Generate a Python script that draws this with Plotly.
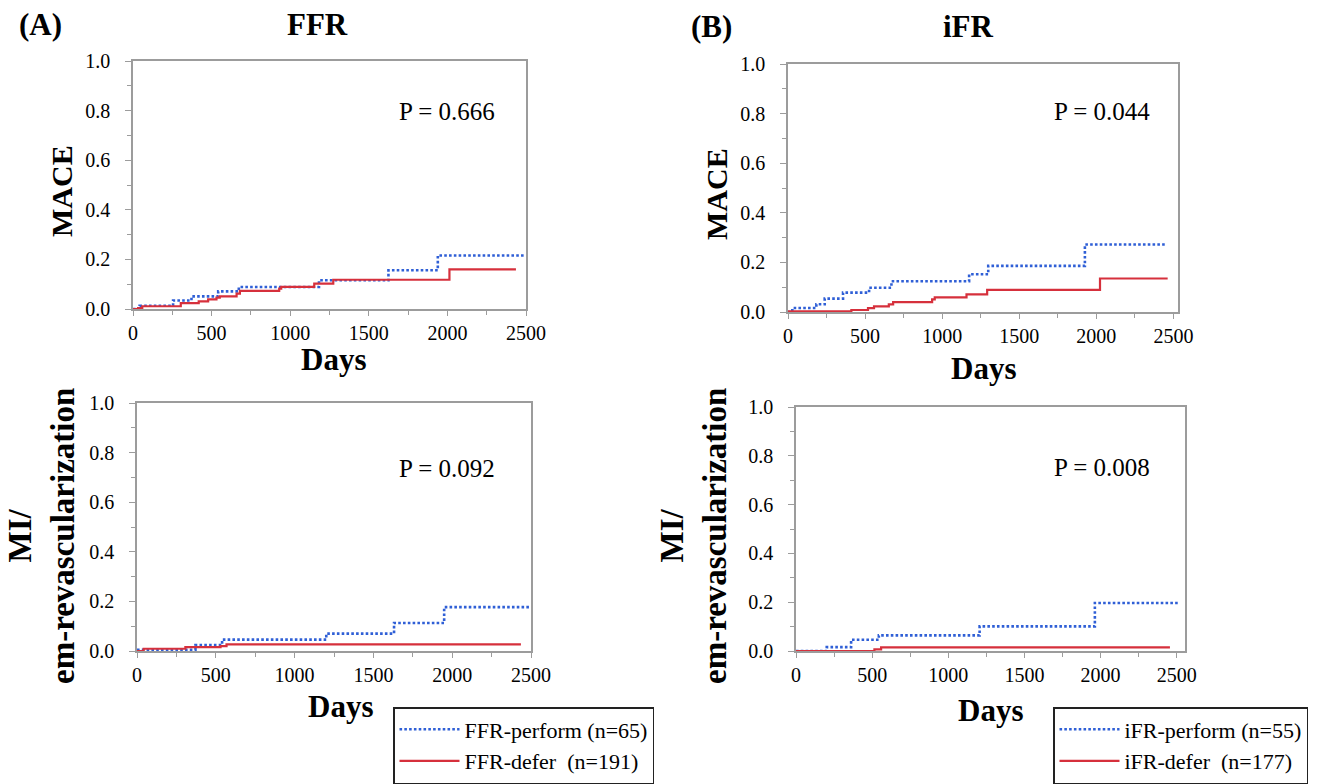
import plotly.graph_objects as go

W, H = 1324, 784

# ---------------- data ----------------
day_ticks = [0, 500, 1000, 1500, 2000, 2500]
prob_ticks = [0.0, 0.2, 0.4, 0.6, 0.8, 1.0]

# (A) FFR - MACE
ffr_mace_perform_days = [0, 42, 255, 372, 542, 673, 1183, 1625, 1939, 2485]
ffr_mace_perform_val = [0.0, 0.013, 0.034, 0.051, 0.071, 0.089, 0.116, 0.156, 0.216, 0.216]
ffr_mace_defer_days = [0, 32, 59, 304, 418, 478, 531, 552, 659, 680, 930, 943, 1153, 1274, 2013, 2436]
ffr_mace_defer_val = [0.0, 0.004, 0.011, 0.024, 0.031, 0.039, 0.046, 0.051, 0.062, 0.073,
                      0.082, 0.089, 0.102, 0.118, 0.160, 0.160]

# (B) iFR - MACE
ifr_mace_perform_days = [0, 28, 184, 238, 357, 526, 671, 1175, 1299, 1926, 2457]
ifr_mace_perform_val = [0.0, 0.016, 0.031, 0.054, 0.078, 0.098, 0.124, 0.152, 0.186, 0.272, 0.272]
ifr_mace_defer_days = [0, 411, 519, 558, 654, 682, 935, 952, 1158, 1292, 2024, 2463]
ifr_mace_defer_val = [0.003, 0.008, 0.016, 0.023, 0.031, 0.040, 0.051, 0.059, 0.071, 0.089, 0.135, 0.135]

# (A) FFR - MI / em-revascularization
ffr_mi_perform_days = [0, 371, 540, 1201, 1631, 1949, 2500]
ffr_mi_perform_val = [0.005, 0.024, 0.046, 0.070, 0.113, 0.177, 0.177]
ffr_mi_defer_days = [0, 42, 307, 530, 568, 2436]
ffr_mi_defer_val = [0.0, 0.009, 0.016, 0.020, 0.027, 0.027]

# (B) iFR - MI / em-revascularization
ifr_mi_perform_days = [0, 202, 362, 544, 1206, 1963, 2511]
ifr_mi_perform_val = [0.0, 0.016, 0.046, 0.064, 0.101, 0.197, 0.197]
ifr_mi_defer_days = [0, 515, 559, 2456]
ifr_mi_defer_val = [0.0, 0.007, 0.015, 0.015]

p_values = ["P = 0.666", "P = 0.044", "P = 0.092", "P = 0.008"]
legend_names_ffr = ["FFR-perform (n=65)", "FFR-defer&nbsp; (n=191)"]
legend_names_ifr = ["iFR-perform (n=55)", "iFR-defer&nbsp; (n=177)"]

# ---------------- styling ----------------
FONT = "Liberation Serif, serif"
GRAY = "#9c9c9c"
BLUE = "#2f5fd6"
RED = "#d6303c"


def fx(px):
    return px / W


def fy(py):
    return 1 - py / H


panels = [
    dict(ax="", xdom=(133, 526), ydom=(61, 309), xmax=2500,
         perform=(ffr_mace_perform_days, ffr_mace_perform_val),
         defer=(ffr_mace_defer_days, ffr_mace_defer_val),
         names=legend_names_ffr, legend="legend", show=True),
    dict(ax="2", xdom=(788, 1178), ydom=(64, 312), xmax=2530,
         perform=(ifr_mace_perform_days, ifr_mace_perform_val),
         defer=(ifr_mace_defer_days, ifr_mace_defer_val),
         names=legend_names_ifr, legend="legend2", show=True),
    dict(ax="3", xdom=(137, 531), ydom=(403, 651), xmax=2500,
         perform=(ffr_mi_perform_days, ffr_mi_perform_val),
         defer=(ffr_mi_defer_days, ffr_mi_defer_val),
         names=legend_names_ffr, legend="legend", show=False),
    dict(ax="4", xdom=(796, 1185), ydom=(407, 651), xmax=2555,
         perform=(ifr_mi_perform_days, ifr_mi_perform_val),
         defer=(ifr_mi_defer_days, ifr_mi_defer_val),
         names=legend_names_ifr, legend="legend2", show=False),
]

fig = go.Figure()
layout_axes = {}
for p in panels:
    a = p["ax"]
    fig.add_trace(go.Scatter(
        x=p["perform"][0], y=p["perform"][1], mode="lines", line_shape="hv",
        line=dict(color=BLUE, width=2.6, dash="2.6px,2.2px"),
        name=p["names"][0], legend=p["legend"], showlegend=p["show"],
        xaxis="x" + a, yaxis="y" + a))
    fig.add_trace(go.Scatter(
        x=p["defer"][0], y=p["defer"][1], mode="lines", line_shape="hv",
        line=dict(color=RED, width=2.2),
        name=p["names"][1], legend=p["legend"], showlegend=p["show"],
        xaxis="x" + a, yaxis="y" + a))

    layout_axes["xaxis" + a] = dict(
        domain=[fx(p["xdom"][0]), fx(p["xdom"][1])], anchor="y" + a,
        range=[0, p["xmax"]], tickmode="array", tickvals=day_ticks,
        showline=True, mirror=True, linecolor=GRAY, linewidth=1.5,
        ticks="outside", ticklen=5, tickcolor=GRAY, tickwidth=1,
        minor=dict(tickmode="linear", tick0=0, dtick=250, ticks="outside",
                   ticklen=4, tickcolor=GRAY),
        showgrid=False, zeroline=False, ticklabelstandoff=0, automargin=False,
        tickfont=dict(family=FONT, size=20, color="black"), fixedrange=True)
    layout_axes["yaxis" + a] = dict(
        domain=[fy(p["ydom"][1]), fy(p["ydom"][0])], anchor="x" + a,
        range=[0, 1], tickmode="array", tickvals=prob_ticks, tickformat=".1f",
        showline=True, mirror=True, linecolor=GRAY, linewidth=1.5,
        ticks="outside", ticklen=6, tickcolor=GRAY, tickwidth=1,
        minor=dict(tickmode="linear", tick0=0, dtick=0.1, ticks="outside",
                   ticklen=4, tickcolor=GRAY),
        showgrid=False, zeroline=False, ticklabelstandoff=11, automargin=False,
        tickfont=dict(family=FONT, size=20, color="black"), fixedrange=True)

annotations = []


def add_text(text, px, py, size, bold=False, angle=0):
    annotations.append(dict(
        text=text, x=fx(px), y=fy(py), xref="paper", yref="paper",
        xanchor="center", yanchor="middle", showarrow=False, textangle=angle,
        font=dict(family=FONT, size=size, color="black",
                  weight="bold" if bold else "normal")))


add_text("(A)", 40, 25, 31, bold=True)
add_text("FFR", 317, 24, 31, bold=True)
add_text("(B)", 711, 26, 31, bold=True)
add_text("iFR", 968, 26, 31, bold=True)

add_text("MACE", 61, 191, 30, bold=True, angle=-90)
add_text("MACE", 716, 194, 30, bold=True, angle=-90)
add_text("MI/<br>em-revascularization", 41, 536, 33, bold=True, angle=-90)
add_text("MI/<br>em-revascularization", 693, 536, 33, bold=True, angle=-90)

add_text("Days", 333, 360, 31, bold=True)
add_text("Days", 983, 368, 31, bold=True)
add_text("Days", 340, 706, 31, bold=True)
add_text("Days", 990, 710, 31, bold=True)

add_text(p_values[0], 447, 111, 25)
add_text(p_values[1], 1102, 112, 25)
add_text(p_values[2], 447, 468, 25)
add_text(p_values[3], 1102, 467, 25)

legend_style = dict(
    xanchor="left", yanchor="bottom", y=0, bgcolor="white",
    bordercolor="#222222", borderwidth=1.5,
    font=dict(family=FONT, size=22, color="black"),
    itemwidth=60, tracegroupgap=0)

fig.update_layout(
    width=W, height=H,
    margin=dict(l=0, r=0, t=0, b=0, autoexpand=False),
    paper_bgcolor="white", plot_bgcolor="white",
    font=dict(family=FONT, color="black"),
    annotations=annotations,
    legend=dict(x=fx(393), **legend_style),
    legend2=dict(x=fx(1053), **legend_style),
    **layout_axes)

fig.write_html(
    "out.html",
    config={"displayModeBar": False},
    post_script="document.body.style.margin='0px';"
                "document.documentElement.style.overflow='hidden';")
